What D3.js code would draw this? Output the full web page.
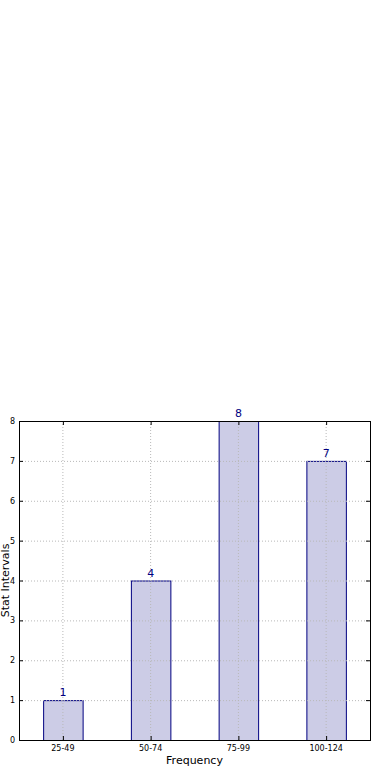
<!DOCTYPE html>
<html>
<head>
<meta charset="utf-8">
<script src="https://cdn.jsdelivr.net/npm/d3@7"></script>
<style>
  body { margin: 0; background: #fff; }
  text { font-family: "DejaVu Sans", sans-serif; }
</style>
</head>
<body>
<div id="chart"></div>
<script>
// data
let categories = ["25-49", "50-74", "75-99", "100-124"];
let counts = [1, 4, 8, 7];
let yTicks = [0, 1, 2, 3, 4, 5, 6, 7, 8];

let width = 390, height = 780;
let margin = { left: 19, right: 20, top: 421, bottom: 40 };

let svg = d3.select("#chart").append("svg")
  .attr("width", width)
  .attr("height", height);

let x = d3.scaleBand()
  .domain(categories)
  .range([margin.left, width - margin.right])
  .paddingInner(0.55)
  .paddingOuter(0.275);

let y = d3.scaleLinear()
  .domain([0, 8])
  .range([height - margin.bottom, margin.top]);

let x0 = margin.left, x1 = width - margin.right;
let y0 = height - margin.bottom, y1 = margin.top;

// grid
let grid = svg.append("g")
  .attr("stroke", "#b8b8b8")
  .attr("stroke-dasharray", "1,2")
  .attr("stroke-width", 1);

grid.selectAll("line.h")
  .data(yTicks)
  .enter().append("line")
  .attr("x1", x0).attr("x2", x1)
  .attr("y1", d => y(d) + 0.5).attr("y2", d => y(d) + 0.5);

grid.selectAll("line.v")
  .data(categories)
  .enter().append("line")
  .attr("x1", d => x(d) + x.bandwidth() / 2)
  .attr("x2", d => x(d) + x.bandwidth() / 2)
  .attr("y1", y0).attr("y2", y1);

// bars
svg.selectAll("rect.bar")
  .data(counts)
  .enter().append("rect")
  .attr("class", "bar")
  .attr("x", (d, i) => x(categories[i]) + 0.5)
  .attr("y", d => y(d) + 0.5)
  .attr("width", x.bandwidth())
  .attr("height", d => y(0) - y(d))
  .attr("fill", "rgba(0,0,128,0.2)")
  .attr("stroke", "#000080")
  .attr("stroke-width", 1);

// grid sits on top of the bars
grid.raise();

// value labels
svg.selectAll("text.val")
  .data(counts)
  .enter().append("text")
  .attr("x", (d, i) => x(categories[i]) + x.bandwidth() / 2)
  .attr("y", d => y(d) - 4)
  .attr("text-anchor", "middle")
  .attr("font-size", 11)
  .attr("fill", "#000080")
  .text(d => d);

// frame
svg.append("rect")
  .attr("x", x0 + 0.5).attr("y", y1 + 0.5)
  .attr("width", x1 - x0).attr("height", y0 - y1)
  .attr("fill", "none")
  .attr("stroke", "#000")
  .attr("stroke-width", 1);

// ticks
let ticks = svg.append("g").attr("stroke", "#000").attr("stroke-width", 1);
yTicks.forEach(function(t) {
  let yy = y(t) + 0.5;
  ticks.append("line").attr("x1", x0).attr("x2", x0 + 4).attr("y1", yy).attr("y2", yy);
  ticks.append("line").attr("x1", x1 - 4).attr("x2", x1).attr("y1", yy).attr("y2", yy);
});
categories.forEach(function(c) {
  let xx = x(c) + x.bandwidth() / 2 + 0.5;
  ticks.append("line").attr("x1", xx).attr("x2", xx).attr("y1", y0).attr("y2", y0 - 4);
  ticks.append("line").attr("x1", xx).attr("x2", xx).attr("y1", y1).attr("y2", y1 + 4);
});

// tick labels
svg.selectAll("text.ytick")
  .data(yTicks)
  .enter().append("text")
  .attr("x", x0 - 4)
  .attr("y", d => y(d) + 3)
  .attr("text-anchor", "end")
  .attr("font-size", 8)
  .text(d => d);

svg.selectAll("text.xtick")
  .data(categories)
  .enter().append("text")
  .attr("x", d => x(d) + x.bandwidth() / 2)
  .attr("y", y0 + 11)
  .attr("text-anchor", "middle")
  .attr("font-size", 8)
  .text(d => d);

// axis labels
svg.append("text")
  .attr("x", (x0 + x1) / 2)
  .attr("y", 764)
  .attr("text-anchor", "middle")
  .attr("font-size", 11)
  .text("Frequency");

svg.append("text")
  .attr("transform", "translate(9," + ((y0 + y1) / 2) + ") rotate(-90)")
  .attr("text-anchor", "middle")
  .attr("font-size", 11)
  .text("Stat Intervals");
</script>
</body>
</html>
